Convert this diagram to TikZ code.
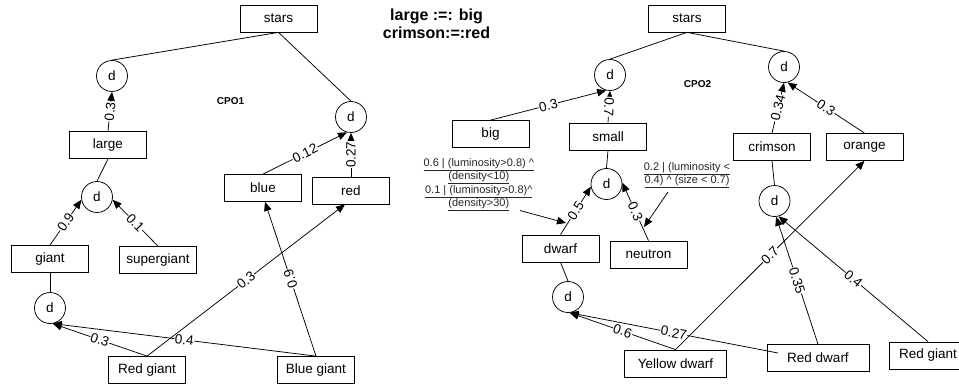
\documentclass[tikz,border=0pt]{standalone}
\usepackage{fontspec}
\setmainfont{Liberation Sans}
\usetikzlibrary{arrows.meta}

\tikzset{
  box/.style={draw, line width=0.75pt, minimum width=77pt, minimum height=27pt, inner sep=0pt,
    font=\fontsize{13.5}{16}\selectfont},
  dn/.style={circle, draw, line width=0.75pt, minimum size=31pt, inner sep=0pt,
    font=\fontsize{13.5}{16}\selectfont},
  wt/.style={fill=white, inner sep=0.6pt, sloped, font=\fontsize{13.5}{16}\selectfont},
  edge/.style={line width=0.75pt},
  arr/.style={edge, -{Triangle[length=9pt,width=7.5pt]}},
  rarr/.style={edge, {Triangle[length=9pt,width=7.5pt]}-},
  note/.style={align=center, text=black!85, inner sep=0pt, font=\fontsize{11}{13.2}\selectfont},
  cpo/.style={font=\bfseries\fontsize{10}{12}\selectfont},
}

\begin{document}
\begin{tikzpicture}[x=1pt, y=-1pt]
\useasboundingbox (0,0) rectangle (959,385);

% heading
\node[align=center, font=\bfseries\fontsize{16}{18}\selectfont] (eq) at (436.5,24) {large :=: big\\crimson:=:red};

% ---------------- CPO1 ----------------
\node[cpo] (cpo1) at (230.5,101) {CPO1};
\node[box] (stars1) at (278.5,18.5) {stars};
\node[dn] (d1a) at (112,76) {d};
\node[dn] (d1b) at (351,117) {d};
\node[box] (large) at (108,145) {large};
\node[box] (blue) at (263,188) {blue};
\node[box] (red) at (351,190.5) {red};
\node[dn] (d1c) at (97,197) {d};
\node[box] (giant) at (50,259) {giant};
\node[box] (superg) at (158,260) {supergiant};
\node[dn] (d1d) at (50,308) {d};
\node[box] (rgiant1) at (147,370) {Red giant};
\node[box] (bgiant) at (316,370) {Blue giant};

\draw[edge] (stars1.south) -- (d1a.north);
\draw[edge] (stars1.south) -- (d1b.north);
\draw[arr] (large.north) -- node[wt]{0.3} (d1a.south);
\draw[edge] (d1c.north) -- (large.south);
\draw[arr] (giant.north) -- node[wt]{0.9} (d1c.190);
\draw[arr] (superg.north) -- node[wt]{0.1} (d1c.-10);
\draw[edge] (giant.south) -- (d1d.north);
\draw[arr] (rgiant1.north) -- node[wt]{0.3} (d1d.-80);
\draw[arr] (bgiant.north) -- node[wt]{0.4} (d1d.-80);
\draw[arr] (rgiant1.north) -- node[wt]{0.3} ([xshift=-6pt]red.south);
\draw[arr] (bgiant.north) -- node[wt, allow upside down]{0.9} ([xshift=2pt]blue.south);
\draw[arr] (blue.north) -- node[wt]{0.12} (d1b.-105);
\draw[arr] (red.north) -- node[wt]{0.27} (d1b.south);

% ---------------- CPO2 ----------------
\node[cpo] (cpo2) at (697.5,84) {CPO2};
\node[box] (stars2) at (687,18.5) {stars};
\node[dn] (d2a) at (610,75) {d};
\node[dn] (d2b) at (784,67) {d};
\node[box] (big) at (490.5,134) {big};
\node[box] (small) at (608,136.5) {small};
\node[box] (crimson) at (772,147) {crimson};
\node[box] (orange) at (864.5,147) {orange};
\node[dn] (d2c) at (606.5,184) {d};
\node[dn] (d2d) at (774.5,201) {d};
\node[box] (dwarf) at (560.5,248.5) {dwarf};
\node[box] (neutron) at (648.5,254.5) {neutron};
\node[dn] (d2e) at (568,297) {d};
\node[box, minimum width=102pt] (ydwarf) at (675.5,363.5) {Yellow dwarf};
\node[box, minimum width=102pt] (rdwarf) at (818,358) {Red dwarf};
\node[box] (rgiant2) at (928,355.5) {Red giant};
\coordinate (rdport) at (778,353);

% conditional annotations
\node[note] (n1) at (478.8,184.6) {\underline{0.6 | (luminosity>0.8) \textasciicircum}\\
  \underline{(density<10)}\\
  \underline{0.1 | (luminosity>0.8)\textasciicircum}\\
  \underline{(density>30)}};
\node[note] (n2) at (687,175.3) {\underline{0.2 | (luminosity <}\\
  \underline{0.4) \textasciicircum\ (size < 0.7)}};
\coordinate (n1tail) at (520,210.5);
\coordinate (n1tip) at (566,223);
\coordinate (n2tail) at (668,192);
\coordinate (n2tip) at (644,227);

\draw[edge] (stars2.south) -- (d2a.north);
\draw[edge] (stars2.south) -- (d2b.north);
\draw[arr] (big.north) -- node[wt]{0.3} (d2a.-104);
\draw[rarr] (d2a.south) -- node[wt, allow upside down]{0.7} (small.north);
\draw[arr] (crimson.north) -- node[wt]{0.34} (d2b.south);
\draw[arr] (orange.north) -- node[wt]{0.3} (d2b.-77);
\draw[edge] (small.south) -- (d2c.north);
\draw[edge] (crimson.south) -- (d2d.north);
\draw[arr] (dwarf.north) -- node[wt]{0.5} (d2c.190);
\draw[arr] (neutron.north) -- node[wt]{0.3} (d2c.5);
\draw[edge] (dwarf.south) -- (d2e.north);
\draw[arr] (ydwarf.north) -- node[wt]{0.6} (d2e.-84);
\draw[arr] (rdport) -- node[wt]{0.27} (d2e.-84);
\draw[arr] (ydwarf.north) -- node[wt]{0.7} (orange.south);
\draw[arr] (rdwarf.north) -- node[wt]{0.35} (d2d.-84);
\draw[arr] (rgiant2.north) -- node[wt]{0.4} (d2d.-75);
\draw[arr] (n1tail) -- (n1tip);
\draw[arr] (n2tail) -- (n2tip);
\end{tikzpicture}
\end{document}
